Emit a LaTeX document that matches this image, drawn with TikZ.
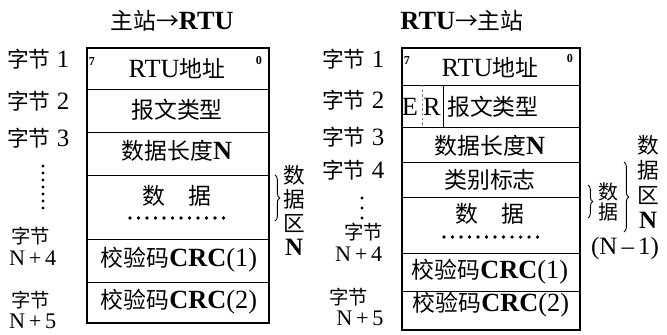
\documentclass[tikz,border=0pt]{standalone}
\usepackage{fontspec}
\setmainfont{Liberation Serif}[Scale=1.15]
\newfontfamily\cjk{Noto Sans CJK SC}
\newcommand\zh[1]{{\cjk #1}}
\usetikzlibrary{decorations.pathreplacing}
\tikzset{
  frame/.style={line width=1.5pt},
  sepline/.style={line width=0.6pt},
  txt/.style={inner sep=0pt, font=\fontsize{19.5}{21}\selectfont},
  lbl/.style={inner sep=0pt, font=\fontsize{18.5}{20}\selectfont},
  twoline/.style={inner sep=0pt, align=left, font=\fontsize{16.5}{18.5}\selectfont},
  vlbl/.style={inner sep=0pt, align=center},
  tiny/.style={inner sep=0pt, font=\fontsize{9}{10}\selectfont\bfseries},
  brc/.style={decorate, decoration={brace, amplitude=4pt}, line width=0.8pt},
}
\begin{document}
\begin{tikzpicture}[x=0.03cm, y=-0.03cm]
\useasboundingbox (0,0) rectangle (667,335);

% ================= left panel =================
\node[txt] (t1) at (172,21) {\zh{主站}\zh{→}\textbf{RTU}};
\draw[frame] (87,48) rectangle (269,323);
\coordinate (la1) at (87,89);   \coordinate (lb1) at (269,89);
\coordinate (la2) at (87,132);  \coordinate (lb2) at (269,132);
\coordinate (la3) at (87,175);  \coordinate (lb3) at (269,175);
\coordinate (la4) at (87,239);  \coordinate (lb4) at (269,239);
\coordinate (la5) at (87,282);  \coordinate (lb5) at (269,282);
\foreach \i in {1,...,5} \draw[sepline] (la\i) -- (lb\i);

\node[tiny] (l7) at (92,62) {7};
\node[tiny] (l0) at (259,61) {0};
\node[txt] (lr1) at (177,69) {RTU\zh{地址}};
\node[txt] (lr2) at (177,110) {\zh{报文类型}};
\node[txt] (lr3) at (177,151) {\zh{数据长度}\textbf{N}};
\node[txt] (lr4) at (177,196) {\zh{数\quad 据}};
\foreach \k in {0,...,11} \fill (130+8.5*\k,218) circle (1.5pt);
\node[txt] (lr6) at (179,260) {\zh{校验码}\textbf{CRC}(1)};
\node[txt] (lr7) at (179,302) {\zh{校验码}\textbf{CRC}(2)};

\node[lbl, anchor=west] (ll1) at (7,59) {\zh{字节} 1};
\node[lbl, anchor=west] (ll2) at (7,101) {\zh{字节} 2};
\node[lbl, anchor=west] (ll3) at (7,138) {\zh{字节} 3};
\foreach \k in {0,...,6} \fill (43,{166+7*\k}) circle (1.4pt);
\node[twoline, anchor=west] (ll4) at (9,246) {\hspace{2pt}\zh{字节}\\N\,+\,4};
\node[twoline, anchor=west] (ll6) at (9,310) {\hspace{2pt}\zh{字节}\\N\,+\,5};

\coordinate (lbt) at (275,175);
\coordinate (lbb) at (275,221);
\draw[brc] (lbt) -- (lbb);
\node[vlbl, font=\fontsize{18.5}{20.5}\selectfont] (lz) at (294,210)
  {\zh{数}\\\zh{据}\\\zh{区}\\\textbf{N}};

% ================= right panel =================
\node[txt] (t2) at (462,21) {\textbf{RTU}\zh{→}\zh{主站}};
\draw[frame] (402,48) rectangle (580,330);
\coordinate (ra1) at (402,85);   \coordinate (rb1) at (580,85);
\coordinate (ra2) at (402,127);  \coordinate (rb2) at (580,127);
\coordinate (ra3) at (402,162);  \coordinate (rb3) at (580,162);
\coordinate (ra4) at (402,197);  \coordinate (rb4) at (580,197);
\coordinate (ra5) at (402,253);  \coordinate (rb5) at (580,253);
\coordinate (ra6) at (402,291);  \coordinate (rb6) at (580,291);
\foreach \i in {1,...,6} \draw[sepline] (ra\i) -- (rb\i);

\node[tiny] (r7) at (407,61) {7};
\node[tiny] (r0) at (570,59) {0};
\node[txt] (rr1) at (490,68) {RTU\zh{地址}};
\node[txt] (rE) at (410,107) {E};
\node[txt] (rR) at (432,107) {R};
\coordinate (rv1) at (443,85);  \coordinate (rv2) at (443,127);
\draw[line width=0.5pt] (rv1) -- (rv2);
\coordinate (rw1) at (422,85);  \coordinate (rw2) at (422,127);
\draw[line width=0.4pt, gray, dash pattern=on 2pt off 2pt] (rw1) -- (rw2);
\node[txt, anchor=west] (rr2) at (447,107) {\zh{报文类型}};
\node[txt] (rr3) at (490,146) {\zh{数据长度}\textbf{N}};
\node[txt] (rr4) at (490,180) {\zh{类别标志}};
\node[txt] (rr5) at (490,214) {\zh{数\quad 据}};
\foreach \k in {0,...,11} \fill (444+8.5*\k,237) circle (1.5pt);
\node[txt] (rr7) at (490,272) {\zh{校验码}\textbf{CRC}(1)};
\node[txt] (rr8) at (491,305) {\zh{校验码}\textbf{CRC}(2)};

\node[lbl, anchor=west] (rl1) at (322,59) {\zh{字节} 1};
\node[lbl, anchor=west] (rl2) at (322,100) {\zh{字节} 2};
\node[lbl, anchor=west] (rl3) at (322,137) {\zh{字节} 3};
\node[lbl, anchor=west] (rl4) at (322,170) {\zh{字节} 4};
\foreach \k in {0,1,2} \fill (362,{198+10*\k}) circle (1.4pt);
\node[twoline, anchor=west] (rl5) at (335,242) {\hspace{8pt}\zh{字节}\\N\,+\,4};
\node[twoline, anchor=west] (rl7) at (329,307) {\zh{字节}\\\hspace{6pt}N\,+\,5};

\coordinate (rbt1) at (588,185);
\coordinate (rbb1) at (588,218);
\draw[brc] (rbt1) -- (rbb1);
\node[vlbl, font=\fontsize{17}{17.5}\selectfont] (ry) at (608,202) {\zh{数}\\\zh{据}};
\node[lbl] (ry3) at (625,249) {(N\,--\,1)};

\coordinate (rbt2) at (624,162);
\coordinate (rbb2) at (624,232);
\draw[brc] (rbt2) -- (rbb2);
\node[vlbl, font=\fontsize{18.5}{21.5}\selectfont] (rz) at (648,182)
  {\zh{数}\\\zh{据}\\\zh{区}\\\textbf{N}};
\end{tikzpicture}
\end{document}
